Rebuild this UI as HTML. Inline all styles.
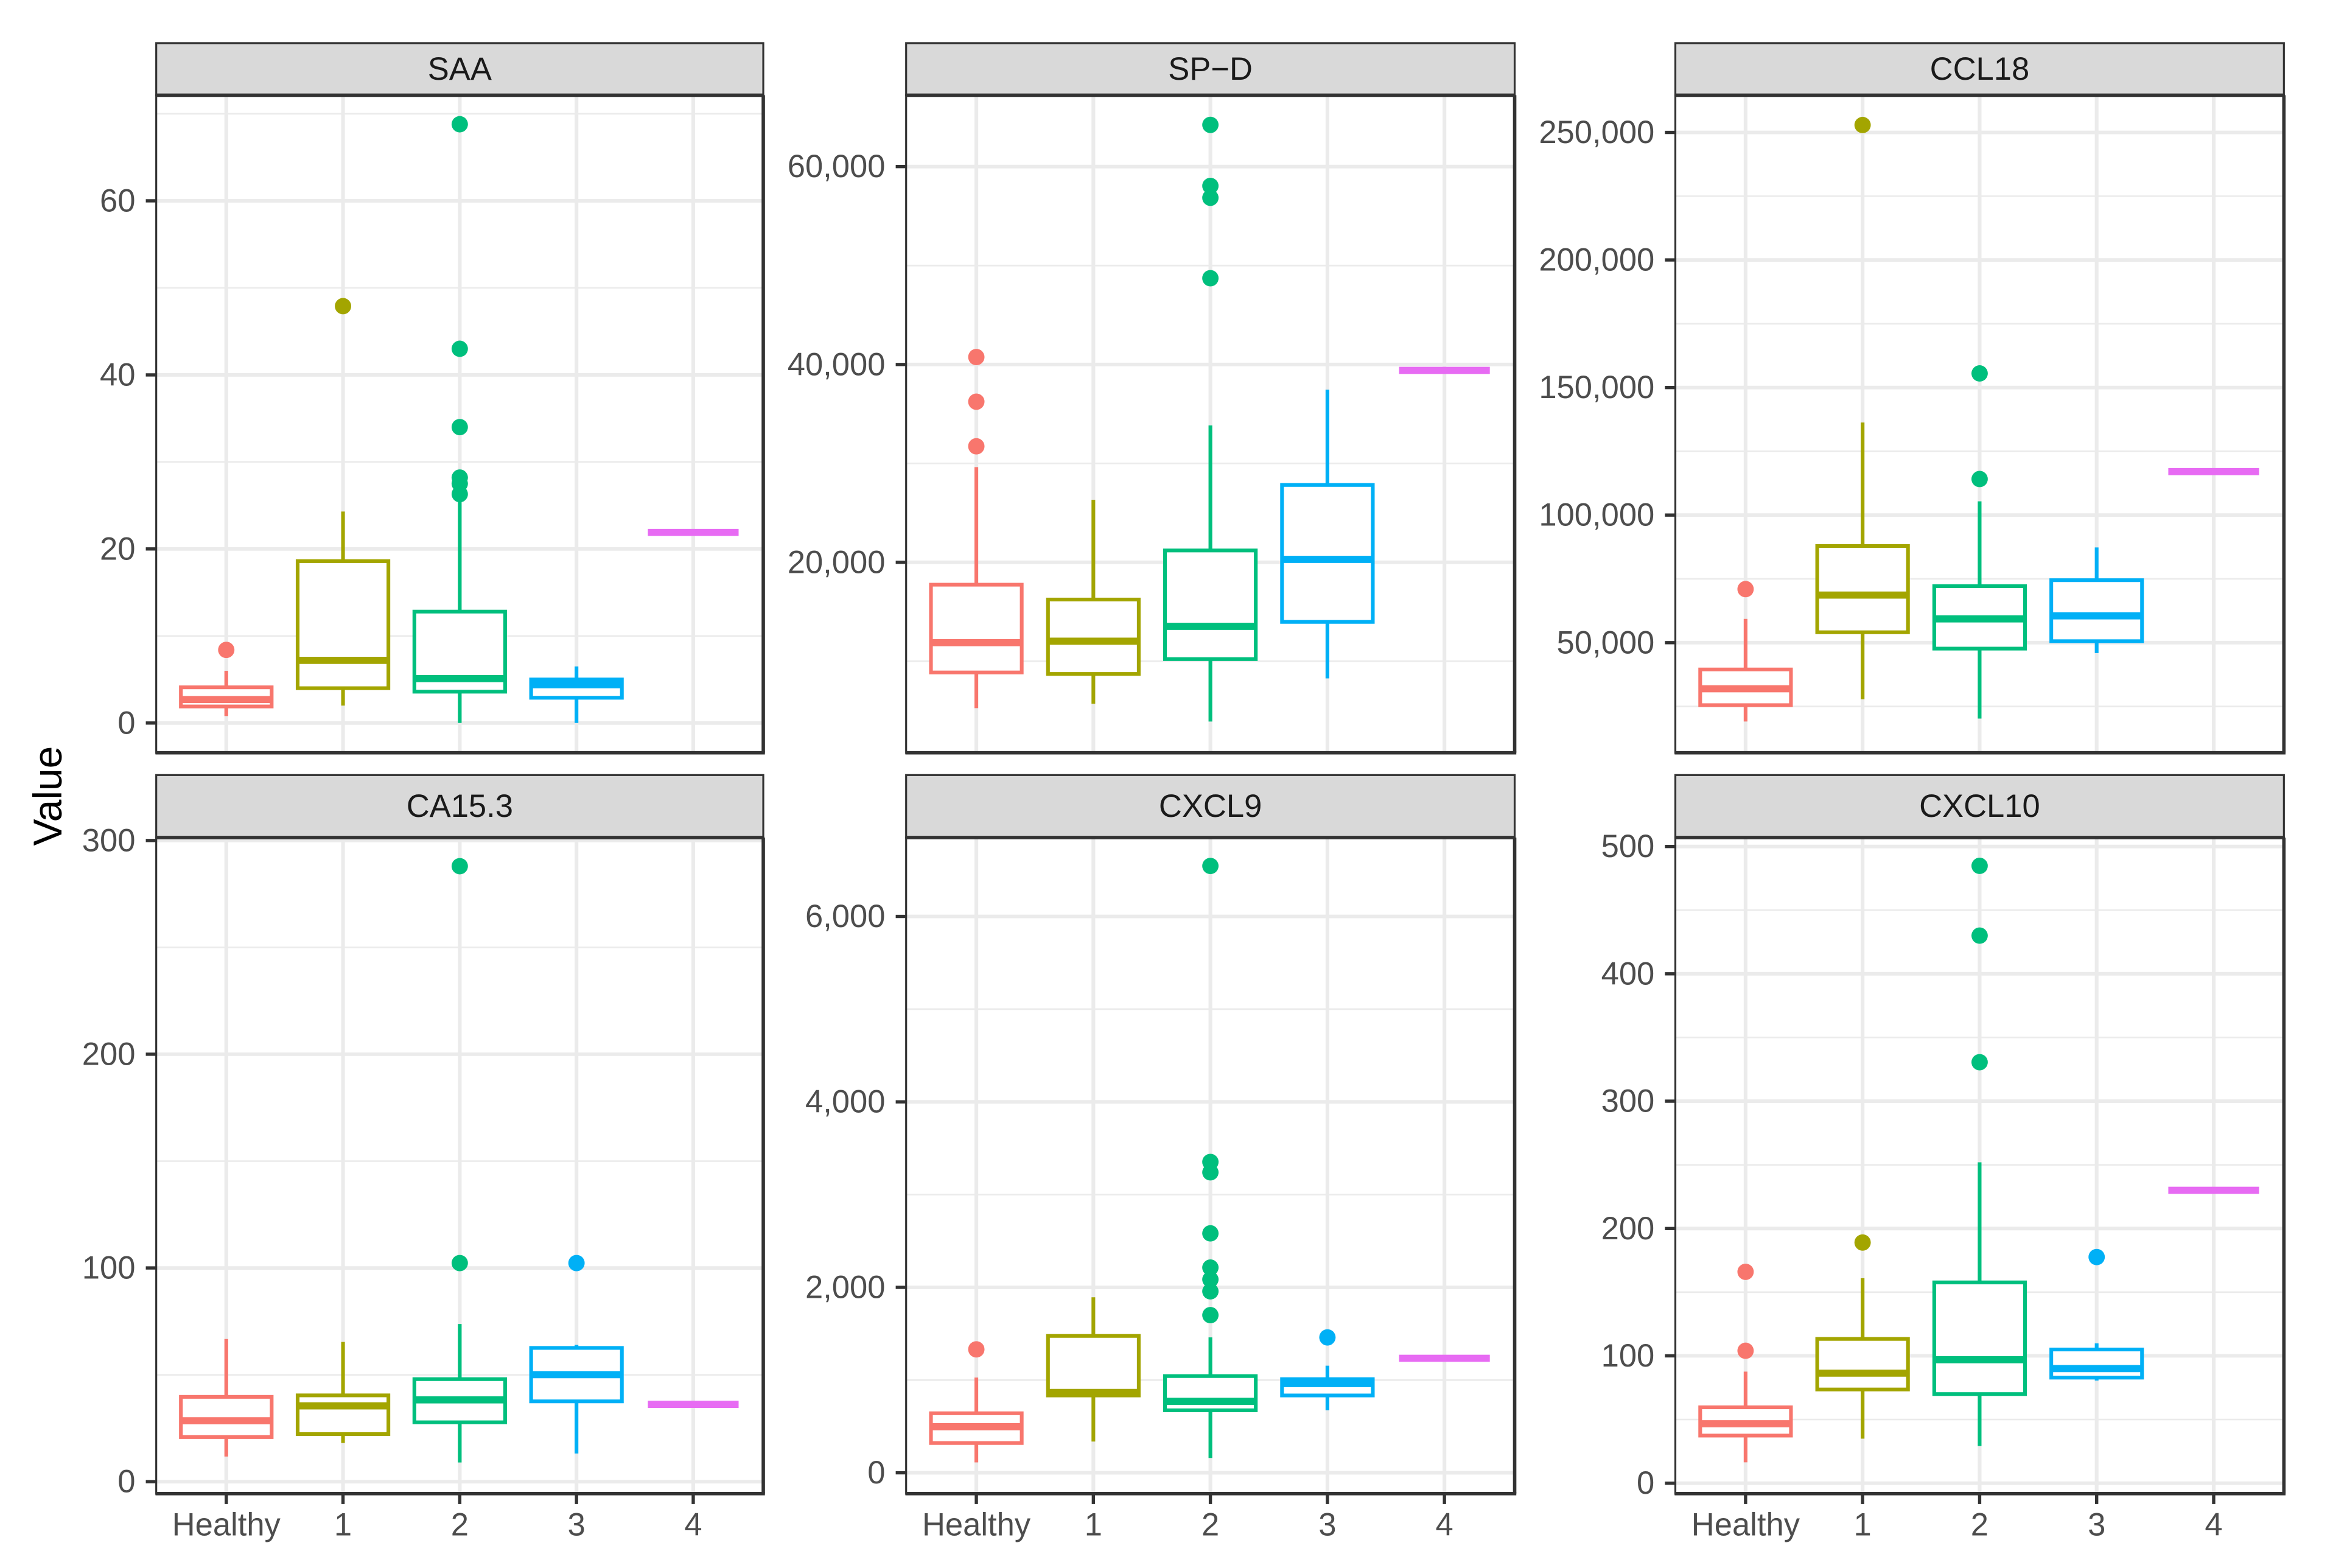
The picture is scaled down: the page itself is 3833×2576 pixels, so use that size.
<!DOCTYPE html>
<html><head><meta charset="utf-8"><style>
html,body{margin:0;padding:0;background:#fff;}
svg{display:block;}
text{font-family:"Liberation Sans",Arial,sans-serif;}
</style></head><body>
<svg id="chart" xmlns="http://www.w3.org/2000/svg" width="3833" height="2576" viewBox="0 0 1568 1054" preserveAspectRatio="none">
<rect x="0" y="0" width="1568" height="1054" fill="#fff"/>
<text x="32" y="535" font-size="27" fill="#000" text-anchor="middle" dominant-baseline="central" transform="rotate(-90 32 535)">Value</text>
</svg>
<script>
const categories = ["Healthy","1","2","3","4"];
const colors = ["#F8766D","#A3A500","#00BF7D","#00B0F6","#E76BF3"];
const panelNames = ["SAA","SP−D","CCL18","CA15.3","CXCL9","CXCL10"];
// box stats per panel: [lo, q1, med, q3, hi] per category
const saaStats = [[0.8,1.9,2.7,4.1,6.0],[2,4,7.2,18.6,24.3],[0,3.6,5.1,12.8,25.8],[0,2.9,4.4,5.0,6.5],[21.9,21.9,21.9,21.9,21.9]];
const saaOut = [[8.4],[47.9],[26.3,27.5,28.2,34,43,68.8],[],[]];
const spdStats = [[5260,8870,11880,17740,29630],[5710,8720,12030,16240,26320],[3910,10220,13530,21200,33840],[8270,13980,20300,27820,37450],[39400,39400,39400,39400,39400]];
const spdOut = [[31730,36240,40750],[],[48720,56850,58050,64220],[],[]];
const ccl18Stats = [[19100,25510,31930,39500,59330],[27840,54080,68660,87900,136300],[20260,47670,59330,72160,105390],[45920,50580,60500,74490,87320],[117050,117050,117050,117050,117050]];
const ccl18Out = [[70990],[252900],[114140,155530],[],[]];
const ca153Stats = [[11.8,20.9,28.5,39.7,66.8],[18.1,22.3,35.5,40.4,65.4],[9,27.8,38.3,48,73.8],[13.2,37.6,50.1,62.6,64],[36.2,36.2,36.2,36.2,36.2]];
const ca153Out = [[],[],[102.3,288],[102.3],[]];
const cxcl9Stats = [[112,321,497,642,1027],[337,834,866,1476,1893],[160,674,770,1043,1460],[674,834,962,1010,1155],[1235,1235,1235,1235,1235]];
const cxcl9Out = [[1331],[],[1700,1957,2085,2213,2582,3240,3352,6544],[1460],[]];
const cxcl10Stats = [[16.4,37.4,46.7,59.6,87.6],[35,73.6,86.4,113.3,161],[29.2,70,97,157.7,252],[80.6,82.9,90,105,109.8],[230,230,230,230,230]];
const cxcl10Out = [[104,166],[189],[330.6,430,484.8],[177.6],[]];
const saaTicks = [0,20,40,60];
const spdTicks = [20000,40000,60000];
const ccl18Ticks = [50000,100000,150000,200000,250000];
const ca153Ticks = [0,100,200,300];
const cxcl9Ticks = [0,2000,4000,6000];
const cxcl10Ticks = [0,100,200,300,400,500];

const NS="http://www.w3.org/2000/svg";
const svg=document.getElementById('chart');
function mk(tag,attrs,parent){const e=document.createElementNS(NS,tag);for(const k in attrs)e.setAttribute(k,attrs[k]);(parent||svg).appendChild(e);return e;}

const colX=[[105,513],[609,1018],[1126,1535]];
const rowY=[{s0:29,s1:64,p1:506},{s0:521,s1:563,p1:1004}];
// scale anchors: [value a, px a, value b, px b]
const anchors=[[0,486,60,135],[20000,378,60000,112],[50000,432,250000,89],[0,996,300,565],[0,990,6000,616],[0,997,500,569]];
const allStats=[saaStats,spdStats,ccl18Stats,ca153Stats,cxcl9Stats,cxcl10Stats];
const allOut=[saaOut,spdOut,ccl18Out,ca153Out,cxcl9Out,cxcl10Out];
const allTicks=[saaTicks,spdTicks,ccl18Ticks,ca153Ticks,cxcl9Ticks,cxcl10Ticks];
const slugs=["saa","sp-d","ccl18","ca15-3","cxcl9","cxcl10"];

for(let p=0;p<6;p++){
  const c=p%3,r=Math.floor(p/3);
  const x0=colX[c][0],x1=colX[c][1],R=rowY[r],y0=R.s1,y1=R.p1;
  const a=anchors[p];
  const ys=v=>a[1]+(v-a[0])*(a[3]-a[1])/(a[2]-a[0]);
  const xs=i=>x0+(i+1-0.4)*(x1-x0)/5.2;
  const g=mk('g',{});
  
  
  mk('rect',{x:x0,y:y0,width:x1-x0,height:y1-y0,fill:'#fff'},g);
  const ticks=allTicks[p];
  const step=ticks[1]-ticks[0];
  // minor grid
  for(let k=-2;k<ticks.length+2;k++){
    const v=ticks[0]+(k+0.5)*step;const y=ys(v);
    if(y>y0+1&&y<y1-1){const l=mk('line',{x1:x0,x2:x1,y1:y,y2:y,stroke:'#EBEBEB','stroke-width':1.1},g);
      }
  }
  ticks.forEach(v=>{const y=ys(v);
    const l=mk('line',{x1:x0,x2:x1,y1:y,y2:y,stroke:'#EBEBEB','stroke-width':2.4},g);
    
    const t=mk('line',{x1:x0-7,x2:x0,y1:y,y2:y,stroke:'#333','stroke-width':2.2},g);
    
    const lb=mk('text',{x:x0-14,y:y,'font-size':21.5,fill:'#4D4D4D','text-anchor':'end','dominant-baseline':'central'},g);
    lb.textContent=v.toLocaleString('en-US');
    
  });
  categories.forEach((cat,i)=>{const x=xs(i);
    const l=mk('line',{x1:x,x2:x,y1:y0,y2:y1,stroke:'#EBEBEB','stroke-width':2.5},g);
    
    if(r===1){
      const t=mk('line',{x1:x,x2:x,y1:y1,y2:y1+7,stroke:'#333','stroke-width':2.2},g);
      
      const lb=mk('text',{x:x,y:y1+21,'font-size':21.5,fill:'#4D4D4D','text-anchor':'middle','dominant-baseline':'central'},g);
      lb.textContent=cat;
      
    }
  });
  // boxes
  const st=allStats[p],out=allOut[p],hw=30.5;
  categories.forEach((cat,i)=>{
    const s=st[i],x=xs(i),col=colors[i];
    const bg=mk('g',{},g);
    
    
    mk('line',{x1:x,x2:x,y1:ys(s[0]),y2:ys(s[1]),stroke:col,'stroke-width':2.5},bg);
    mk('line',{x1:x,x2:x,y1:ys(s[3]),y2:ys(s[4]),stroke:col,'stroke-width':2.5},bg);
    mk('rect',{x:x-hw,y:ys(s[3]),width:2*hw,height:Math.max(0,ys(s[1])-ys(s[3])),fill:'#fff',stroke:col,'stroke-width':2.5},bg);
    mk('line',{x1:x-hw,x2:x+hw,y1:ys(s[2]),y2:ys(s[2]),stroke:col,'stroke-width':4.8},bg);
    out[i].forEach(v=>{
      const pt=mk('circle',{cx:x,cy:ys(v),r:5.5,fill:col},g);
      
      
    });
  });
  // border
  mk('rect',{x:x0,y:y0,width:x1-x0,height:y1-y0,fill:'none',stroke:'#333','stroke-width':1.3},g);
  mk('line',{x1:x0-0.5,x2:x1+1.1,y1:y1,y2:y1,stroke:'#333','stroke-width':2.3},g);
  mk('line',{x1:x1,x2:x1,y1:y0,y2:y1,stroke:'#333','stroke-width':2.3},g);
  // strip
  const sg=mk('g',{},g);
  
  
  mk('rect',{x:x0,y:R.s0,width:x1-x0,height:R.s1-R.s0,fill:'#D9D9D9',stroke:'#333','stroke-width':1.3},sg);
  mk('line',{x1:x0,x2:x1,y1:R.s1,y2:R.s1,stroke:'#333','stroke-width':2.3},sg);
  const st2=mk('text',{x:(x0+x1)/2,y:(R.s0+R.s1)/2,'font-size':21.5,fill:'#1A1A1A','text-anchor':'middle','dominant-baseline':'central'},sg);
  st2.textContent=panelNames[p];
  
  
}
</script>
</body></html>
